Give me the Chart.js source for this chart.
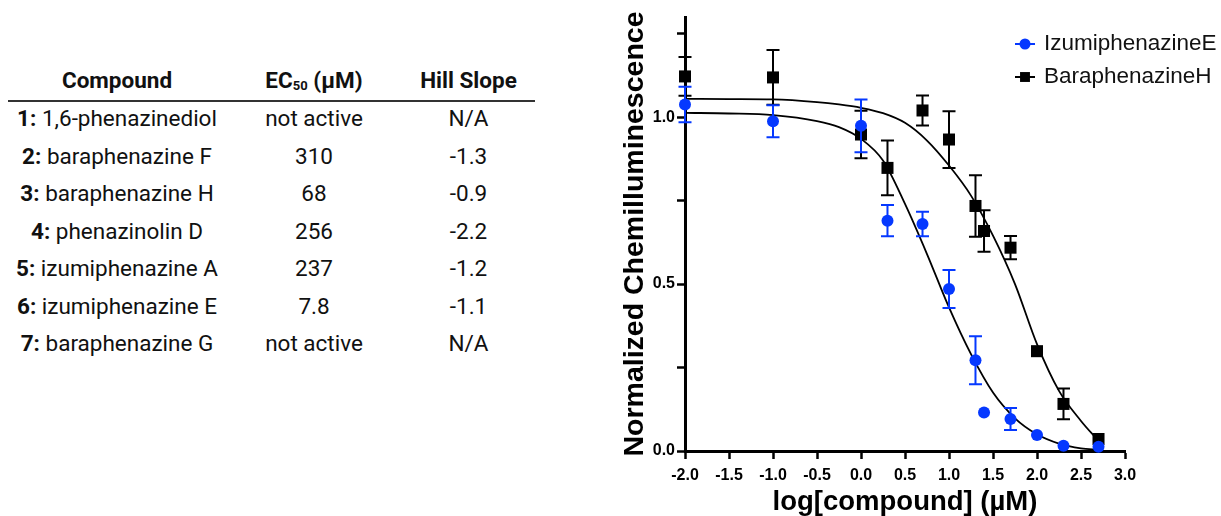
<!DOCTYPE html>
<html>
<head>
<meta charset="utf-8">
<script src="https://cdn.jsdelivr.net/npm/chart.js@4.4.1/dist/chart.umd.min.js"></script>
<style>
  html, body { margin: 0; padding: 0; background: #fff; }
  body { width: 1221px; height: 516px; position: relative; overflow: hidden; }
  #summary { position: absolute; left: 8px; top: 0; width: 527px; height: 516px;
             font-family: Roboto, "Noto Sans", sans-serif; font-size: 22.5px; color: #111; }
  .row { position: absolute; left: 0; width: 527px; height: 37.5px; display: flex; align-items: center; }
  .row div { text-align: center; white-space: nowrap; }
  .c1 { width: 218px; } .c2 { width: 176px; } .c3 { width: 133px; }
  .head { font-weight: bold; height: 42px; }
  .head sub { font-size: 13px; vertical-align: -2px; }
  #rule { position: absolute; left: 0; top: 100px; width: 527px; height: 2px; background: #333; }
  #plot { position: absolute; left: 600px; top: 0; }
</style>
</head>
<body>
<div id="summary">
  <div class="row head" style="top:59px">
    <div class="c1">Compound</div>
    <div class="c2">EC<sub>50</sub> (µM)</div>
    <div class="c3">Hill Slope</div>
  </div>
  <div id="rule"></div>
</div>
<canvas id="plot" width="621" height="516"></canvas>

<script>
// table contents
const compoundNo = ['1:', '2:', '3:', '4:', '5:', '6:', '7:'];
const compoundName = ['1,6-phenazinediol', 'baraphenazine F', 'baraphenazine H', 'phenazinolin D',
                      'izumiphenazine A', 'izumiphenazine E', 'baraphenazine G'];
const ec50Text = ['not active', '310', '68', '256', '237', '7.8', 'not active'];
const hillText = ['N/A', '-1.3', '-0.9', '-2.2', '-1.2', '-1.1', 'N/A'];

// dose response, x = log10 of concentration in µM
const logDose = [-2, -1, 0, 0.301, 0.699, 1, 1.301, 1.398, 1.699, 2, 2.301, 2.699];
const izumiMean = [1.038, 0.988, 0.974, 0.690, 0.680, 0.485, 0.272, 0.115, 0.096, 0.048, 0.016, 0.013];
const izumiErr  = [0.053, 0.048, 0.079, 0.047, 0.037, 0.057, 0.072, 0, 0.033, 0, 0, 0];
const baraMean  = [1.122, 1.119, 0.948, 0.848, 1.020, 0.933, 0.734, 0.659, 0.609, 0.299, 0.141, 0.036];
const baraErr   = [0.058, 0.082, 0.071, 0.082, 0.045, 0.085, 0.092, 0.062, 0.035, 0, 0.046, 0];

// fitted curves sampled along x
const fitX      = [-2, -1.5, -1, -0.5, -0.25, 0, 0.25, 0.5, 0.75, 1, 1.25, 1.5, 1.75, 2, 2.25, 2.5, 2.7];
const izumiFit  = [1.013, 1.011, 1.006, 0.988, 0.970, 0.935, 0.870, 0.740, 0.590, 0.430, 0.290, 0.175, 0.098, 0.050, 0.022, 0.008, 0.004];
const baraFit   = [1.055, 1.054, 1.053, 1.045, 1.038, 1.028, 1.012, 0.983, 0.930, 0.855, 0.765, 0.645, 0.500, 0.320, 0.180, 0.090, 0.030];

const xTicks = [-2, -1.5, -1, -0.5, 0, 0.5, 1, 1.5, 2, 2.5, 3];
const yTicks = [0, 0.25, 0.5, 0.75, 1.0, 1.25];
const yLabelled = [0, 0.5, 1.0];

const BLUE = '#0538ff';
const AXIS_FONT = 'Arial, "Liberation Sans", sans-serif';

// build table rows
const summary = document.getElementById('summary');
compoundName.forEach((name, i) => {
    const row = document.createElement('div');
    row.className = 'row';
    row.style.top = (99.5 + i * 37.5) + 'px';
    row.innerHTML = `<div class="c1"><b>${compoundNo[i]}</b> ${name}</div>` +
                    `<div class="c2">${ec50Text[i]}</div><div class="c3">${hillText[i]}</div>`;
    summary.appendChild(row);
});

const toPoints = (xs, ys) => xs.map((x, i) => ({ x: x, y: ys[i] }));

// vertical error bars with caps, drawn just before the dataset's markers
const errorBars = {
    id: 'errorBars',
    beforeDatasetDraw(chart, args) {
        const ds = chart.data.datasets[args.index];
        if (!ds.errors) return;
        const { ctx, scales: { x, y } } = chart;
        ctx.save();
        ctx.strokeStyle = ds.borderColor;
        ctx.lineWidth = 2;
        ds.data.forEach((p, i) => {
            const e = ds.errors[i];
            if (!e) return;
            const px = x.getPixelForValue(p.x);
            const top = y.getPixelForValue(p.y + e);
            const bot = y.getPixelForValue(p.y - e);
            ctx.beginPath();
            ctx.moveTo(px, top); ctx.lineTo(px, bot);
            ctx.moveTo(px - 6.5, top); ctx.lineTo(px + 6.5, top);
            ctx.moveTo(px - 6.5, bot); ctx.lineTo(px + 6.5, bot);
            ctx.stroke();
        });
        ctx.restore();
    }
};

// legend in the upper right, line + marker per series
const cornerLegend = {
    id: 'cornerLegend',
    afterDraw(chart) {
        const ctx = chart.ctx;
        [0, 1].forEach(i => {
            const ds = chart.data.datasets[i];
            const cx = 425, cy = 44 + i * 33;
            ctx.save();
            ctx.strokeStyle = ds.borderColor;
            ctx.lineWidth = 2;
            ctx.beginPath();
            ctx.moveTo(cx - 10, cy); ctx.lineTo(cx + 10, cy);
            ctx.stroke();
            ctx.fillStyle = ds.backgroundColor;
            Chart.helpers.drawPoint(ctx, {
                pointStyle: ds.pointStyle,
                radius: ds.pointStyle === 'rect' ? 7 : 5.5,
                rotation: 0,
                borderWidth: 0
            }, cx, cy);
            ctx.fillStyle = '#111';
            ctx.font = '22.5px ' + AXIS_FONT;
            ctx.textBaseline = 'middle';
            ctx.textAlign = 'left';
            ctx.fillText(ds.label, 444, cy);
            ctx.restore();
        });
    }
};

new Chart(document.getElementById('plot'), {
    type: 'scatter',
    data: {
        datasets: [
            {
                label: 'IzumiphenazineE',
                data: toPoints(logDose, izumiMean),
                errors: izumiErr,
                pointStyle: 'circle',
                pointRadius: 6,
                backgroundColor: BLUE,
                borderColor: BLUE,
                pointBorderWidth: 0,
                clip: false,
                order: 0
            },
            {
                label: 'BaraphenazineH',
                data: toPoints(logDose, baraMean),
                errors: baraErr,
                pointStyle: 'rect',
                pointRadius: 8.5,
                backgroundColor: '#000',
                borderColor: '#000',
                pointBorderWidth: 0,
                clip: false,
                order: 1
            },
            {
                label: 'IzumiphenazineE fit',
                data: toPoints(fitX, izumiFit),
                showLine: true,
                pointRadius: 0,
                borderColor: '#000',
                borderWidth: 1.8,
                cubicInterpolationMode: 'monotone',
                clip: false,
                order: 2
            },
            {
                label: 'BaraphenazineH fit',
                data: toPoints(fitX, baraFit),
                showLine: true,
                pointRadius: 0,
                borderColor: '#000',
                borderWidth: 1.8,
                cubicInterpolationMode: 'monotone',
                clip: false,
                order: 3
            }
        ]
    },
    options: {
        responsive: false,
        animation: false,
        layout: { padding: { left: 0, right: 96, top: 17, bottom: 0 } },
        plugins: {
            legend: { display: false },
            tooltip: { enabled: false }
        },
        scales: {
            x: {
                type: 'linear',
                min: -2,
                max: 3,
                afterBuildTicks: s => { s.ticks = xTicks.map(v => ({ value: v })); },
                afterFit: s => { s.height = 65; },
                border: { display: true, color: '#000', width: 3 },
                grid: { drawOnChartArea: false, drawTicks: true, tickLength: 8, tickWidth: 2.5, tickColor: '#000' },
                ticks: {
                    color: '#000',
                    padding: 7,
                    autoSkip: false,
                    maxRotation: 0,
                    font: { family: AXIS_FONT, size: 16, weight: 'bold' },
                    callback: v => v.toFixed(1)
                },
                title: {
                    display: true,
                    text: 'log[compound] (µM)',
                    color: '#000',
                    padding: { top: 0, bottom: 0 },
                    font: { family: AXIS_FONT, size: 27.5, weight: 'bold', lineHeight: 1 }
                }
            },
            y: {
                type: 'linear',
                min: 0,
                max: 1.3,
                afterBuildTicks: s => { s.ticks = yTicks.map(v => ({ value: v })); },
                afterFit: s => { s.width = 85; },
                border: { display: true, color: '#000', width: 3 },
                grid: { drawOnChartArea: false, drawTicks: true, tickLength: 8, tickWidth: 2.5, tickColor: '#000' },
                ticks: {
                    color: '#000',
                    padding: 2,
                    font: { family: AXIS_FONT, size: 16, weight: 'bold' },
                    callback: v => yLabelled.includes(v) ? v.toFixed(1) : ''
                },
                title: {
                    display: true,
                    text: 'Normalized Chemilluminescence',
                    color: '#000',
                    padding: { top: 21, bottom: 0 },
                    font: { family: AXIS_FONT, size: 28.5, weight: 'bold', lineHeight: 1 }
                }
            }
        }
    },
    plugins: [errorBars, cornerLegend]
});
</script>
</body>
</html>
